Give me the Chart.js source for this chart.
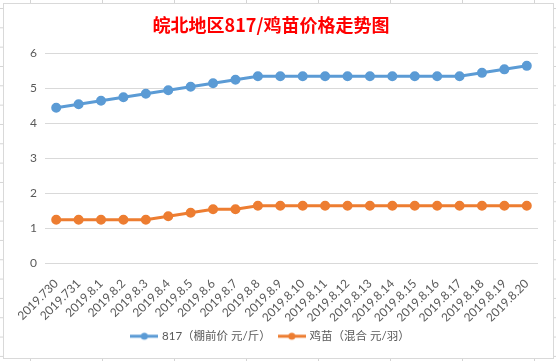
<!DOCTYPE html>
<html>
<head>
<meta charset="utf-8">
<script src="https://cdn.jsdelivr.net/npm/chart.js@4"></script>
<style>
html,body{margin:0;padding:0;}
body{
width:556px;height:361px;overflow:hidden;position:relative;background:#fff;
background-image:linear-gradient(to right,#d4d4d4 1px,transparent 1px),linear-gradient(to bottom,#d4d4d4 1px,transparent 1px);
background-size:72px 19.33px;
background-position:30px 8px;
}
#frame{position:absolute;left:3px;top:3px;width:549px;height:354px;border:1px solid #d9d9d9;background:#fff;}
</style>
</head>
<body>
<div id="frame"><canvas id="priceChart"></canvas></div>
<script>
// dates on the x axis
const dates = ["2019.730","2019.731","2019.8.1","2019.8.2","2019.8.3","2019.8.4","2019.8.5","2019.8.6","2019.8.7","2019.8.8","2019.8.9","2019.8.10","2019.8.11","2019.8.12","2019.8.13","2019.8.14","2019.8.15","2019.8.16","2019.8.17","2019.8.18","2019.8.19","2019.8.20"];
// 817 shed price, yuan / jin
const price817 = [4.45,4.55,4.65,4.75,4.85,4.95,5.05,5.15,5.25,5.35,5.35,5.35,5.35,5.35,5.35,5.35,5.35,5.35,5.35,5.45,5.55,5.65];
// chick price, yuan each
const priceChick = [1.25,1.25,1.25,1.25,1.25,1.35,1.45,1.55,1.55,1.65,1.65,1.65,1.65,1.65,1.65,1.65,1.65,1.65,1.65,1.65,1.65,1.65];
const yTicks = [0,1,2,3,4,5,6];

const FONT = "Lato, 'Noto Sans CJK SC', sans-serif";
const TXT = "#595959";

/* -----------------------------
   legend marker: line + dot
------------------------------ */
function legendMark(color){
let c=document.createElement("canvas");
c.width=28;c.height=12;
let g=c.getContext("2d");
g.strokeStyle=color;g.lineWidth=3;
g.beginPath();g.moveTo(0,6);g.lineTo(28,6);g.stroke();
g.fillStyle=color;
g.beginPath();g.arc(14,6,3.5,0,Math.PI*2);g.fill();
return c;
}

new Chart(document.getElementById("priceChart"),{
type:"line",
data:{
labels:dates,
datasets:[{
label:"817（棚前价 元/斤）",
data:price817,
borderColor:"#5b9bd5",
backgroundColor:"#5b9bd5",
borderWidth:3,
pointRadius:3.5,
tension:0
},{
label:"鸡苗（混合 元/羽）",
data:priceChick,
borderColor:"#ed7d31",
backgroundColor:"#ed7d31",
borderWidth:3,
pointRadius:3.5,
tension:0
}]
},
options:{
responsive:true,
maintainAspectRatio:false,
animation:false,
layout:{padding:{left:0,right:15,top:0,bottom:6}},
plugins:{
title:{
display:true,
text:"皖北地区817/鸡苗价格走势图",
color:"#ff0000",
font:{family:"'Noto Sans CJK SC', sans-serif",size:18,weight:"bold"},
padding:{top:10,bottom:18}
},
legend:{
position:"bottom",
labels:{
usePointStyle:true,
pointStyleWidth:24,
color:TXT,
padding:9,
font:{family:FONT,size:11.5},
generateLabels(chart){
return chart.data.datasets.map((ds,i)=>({
text:ds.label,
fillStyle:ds.borderColor,
strokeStyle:ds.borderColor,
fontColor:TXT,
lineWidth:0,
pointStyle:legendMark(ds.borderColor),
datasetIndex:i
}));
}
}
},
tooltip:{enabled:false}
},
scales:{
x:{
offset:true,
grid:{display:false},
border:{display:false},
ticks:{
color:TXT,
font:{family:FONT,size:12},
minRotation:45,
maxRotation:45,
autoSkip:false,
padding:5
},
afterFit(s){s.height=58;}
},
y:{
min:0,
max:6,
afterBuildTicks(s){s.ticks=yTicks.map(v=>({value:v}));},
grid:{color:"#d9d9d9",drawTicks:false},
border:{display:false},
ticks:{color:TXT,font:{family:FONT,size:12},padding:8},
afterFit(s){s.width=41;}
}
}
}
});
</script>
</body>
</html>
